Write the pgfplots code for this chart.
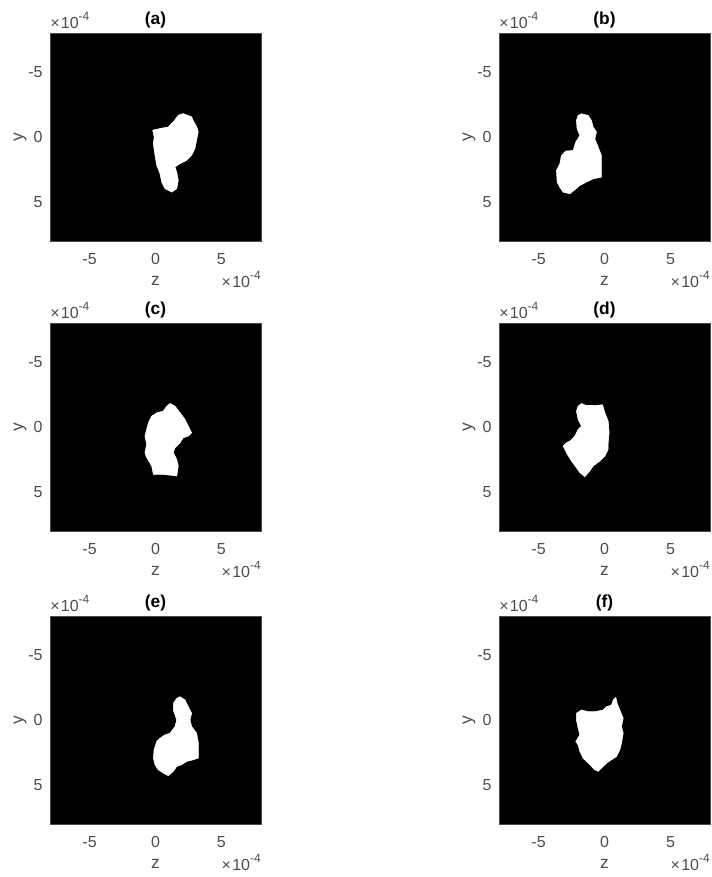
\documentclass[border=0pt]{standalone}
\usepackage{fontspec}
\setmainfont{Liberation Sans}
\usepackage{pgfplots}
\pgfplotsset{compat=1.18}
\definecolor{lab}{gray}{0.3}
\tikzset{exp/.style={font=\fontsize{12}{14}\selectfont, text=lab, inner sep=0pt}}
\pgfplotsset{panel/.style={
  scale only axis, width=158.25pt, height=156.4pt, anchor=north west,
  xmin=-8,xmax=8,ymin=-8,ymax=8, y dir=reverse, clip=false,
  axis background/.style={fill=black},
  axis line style={draw=black!70, line width=0.6pt},
  xtick={-5,0,5}, ytick={-5,0,5}, xticklabels={-5,0,5}, yticklabels={-5,0,5},
  major tick length=0pt,
  tick label style={font=\fontsize{12}{14}\selectfont, text=lab},
  xticklabel style={yshift=-5.5pt},
  yticklabel style={xshift=-2pt},
  xlabel={z}, ylabel={y},
  xlabel style={font=\fontsize{13}{15}\selectfont, text=lab, at={(axis description cs:0.5,0)}, anchor=center, yshift=-29.5pt},
  ylabel style={font=\fontsize{13}{15}\selectfont, text=lab, at={(axis description cs:0,0.5)}, anchor=center, yshift=22.5pt},
  title style={font=\bfseries\fontsize{13}{15}\selectfont, at={(axis description cs:0.5,1)}, anchor=center, yshift=3.75pt},
}}
\newcommand{\expo}{×\kern1pt 10\raisebox{0.5em}{\fontsize{9}{10}\selectfont -4}}
\newcommand{\expnodes}{%
  \node[exp, anchor=base west, yshift=3.5pt] at (axis description cs:0,1) {\expo};
  \node[exp, anchor=base east, yshift=-34.5pt] at (axis description cs:1,0) {\expo};
}
\begin{document}
\begin{tikzpicture}
\useasboundingbox (0,0) rectangle (533.25pt,-657.75pt);
% (a)
\begin{axis}[panel, at={(37.5pt,-24.75pt)}, title={(a)}]
\addplot[fill=white, draw=white] coordinates {
(2.10,-1.82) (2.40,-1.70) (2.74,-1.56) (2.85,-1.30) (2.99,-1.05) (3.15,-0.75) (3.24,-0.41) (3.12,0.23) (3.05,0.55) (2.99,0.87) (2.74,1.38) (2.36,1.77) (1.86,2.02) (1.48,2.28) (1.61,2.67) (1.73,3.31) (1.61,3.95) (1.23,4.21) (0.95,4.05) (0.72,3.95) (0.47,3.44) (0.34,2.79) (0.09,2.15) (-0.04,1.38) (-0.17,0.48) (-0.10,0.00) (-0.21,-0.54) (0.34,-0.67) (0.97,-0.79) (1.35,-1.18) (1.73,-1.69)
} -- cycle;
\expnodes
\end{axis}
% (b)
\begin{axis}[panel, at={(374.25pt,-24.75pt)}, title={(b)}]
\addplot[fill=white, draw=white] coordinates {
(-1.75,-1.80) (-1.24,-1.68) (-0.99,-1.29) (-0.86,-0.78) (-0.61,-0.40) (-0.73,0.12) (-0.48,0.76) (-0.23,1.40) (-0.23,2.16) (-0.23,3.06) (-0.86,3.19) (-1.37,3.44) (-1.87,3.70) (-2.25,4.03) (-2.63,4.34) (-3.14,4.21) (-3.39,3.83) (-3.59,3.44) (-3.65,2.55) (-3.39,2.04) (-3.27,1.40) (-2.94,1.06) (-2.38,1.01) (-2.18,0.37) (-1.87,-0.14) (-2.08,-0.65) (-2.13,-1.29) (-2.00,-1.68)
} -- cycle;
\expnodes
\end{axis}
% (c)
\begin{axis}[panel, at={(37.5pt,-242.25pt)}, title={(c)}]
\addplot[fill=white, draw=white] coordinates {
(1.10,-1.82) (1.48,-1.62) (1.86,-1.11) (2.24,-0.60) (2.49,-0.09) (2.74,0.42) (2.49,0.68) (2.11,0.80) (1.86,1.19) (1.48,1.57) (1.35,1.95) (1.61,2.46) (1.73,2.97) (1.61,3.74) (1.23,3.69) (0.59,3.62) (-0.16,3.62) (-0.29,2.97) (-0.67,2.33) (-0.80,1.95) (-0.67,1.31) (-0.80,0.68) (-0.67,0.17) (-0.54,-0.34) (-0.29,-0.85) (0.09,-1.11) (0.59,-1.24) (0.85,-1.62)
} -- cycle;
\expnodes
\end{axis}
% (d)
\begin{axis}[panel, at={(374.25pt,-242.25pt)}, title={(d)}]
\addplot[fill=white, draw=white] coordinates {
(-1.75,-1.82) (-1.37,-1.67) (-0.86,-1.67) (-0.15,-1.72) (0.03,-1.11) (0.28,-0.47) (0.35,0.42) (0.28,1.19) (0.28,1.70) (0.03,2.21) (-0.35,2.59) (-0.86,2.97) (-1.11,3.35) (-1.49,3.79) (-1.87,3.48) (-2.13,3.10) (-2.51,2.59) (-2.89,1.95) (-3.14,1.44) (-2.89,1.19) (-2.63,1.06) (-2.25,0.68) (-2.00,0.17) (-1.75,-0.09) (-2.00,-0.60) (-2.13,-1.24) (-2.00,-1.62)
} -- cycle;
\expnodes
\end{axis}
% (e)
\begin{axis}[panel, at={(37.5pt,-462pt)}, title={(e)}]
\addplot[fill=white, draw=white] coordinates {
(1.86,-1.81) (2.24,-1.55) (2.49,-1.04) (2.74,-0.54) (2.62,-0.03) (2.74,0.48) (3.12,0.99) (3.25,1.76) (3.25,2.39) (3.25,2.90) (2.87,3.03) (2.36,3.16) (1.98,3.41) (1.61,3.54) (1.35,3.92) (0.97,4.25) (0.59,4.05) (0.21,3.80) (-0.04,3.41) (-0.16,2.90) (-0.11,2.27) (0.09,1.63) (0.34,1.38) (0.72,1.12) (1.10,0.99) (1.48,0.48) (1.61,-0.03) (1.35,-0.79) (1.35,-1.30) (1.61,-1.68)
} -- cycle;
\expnodes
\end{axis}
% (f)
\begin{axis}[panel, at={(374.25pt,-462pt)}, title={(f)}]
\addplot[fill=white, draw=white] coordinates {
(0.86,-1.76) (0.96,-1.30) (1.16,-0.79) (1.42,-0.15) (1.29,0.48) (1.42,0.99) (1.29,1.76) (1.16,2.27) (0.91,2.78) (0.53,3.03) (0.15,3.29) (-0.10,3.54) (-0.48,3.92) (-0.73,3.80) (-1.11,3.41) (-1.62,2.90) (-1.87,2.39) (-2.00,1.89) (-2.18,1.63) (-1.87,1.12) (-2.00,0.61) (-2.13,-0.03) (-2.13,-0.53) (-1.75,-0.79) (-1.24,-0.66) (-0.73,-0.66) (-0.10,-0.79) (0.15,-1.04) (0.53,-1.17) (0.66,-1.55)
} -- cycle;
\expnodes
\end{axis}
\end{tikzpicture}
\end{document}
